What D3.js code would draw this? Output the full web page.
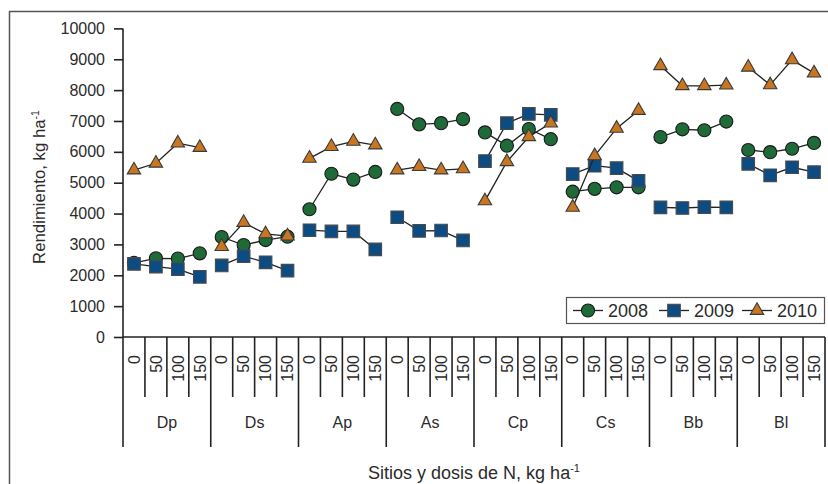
<!DOCTYPE html>
<html><head><meta charset="utf-8">
<script src="https://cdn.jsdelivr.net/npm/d3@7"></script>
<style>
html,body{margin:0;padding:0;background:#fff;}
svg{display:block;font-family:"Liberation Sans",Arial,sans-serif;}
</style></head>
<body>
<svg id="chart" width="828" height="484"></svg>
<script>
const sites = ["Dp","Ds","Ap","As","Cp","Cs","Bb","Bl"];
const doses = ["0","50","100","150"];
const yTicks = [0,1000,2000,3000,4000,5000,6000,7000,8000,9000,10000];
const seriesNames = ["2008","2009","2010"];
const y2008 = [2400,2550,2540,2710, 3240,2980,3140,3250, 4140,5290,5100,5350, 7390,6890,6930,7060, 6630,6200,6740,6410, 4710,4800,4850,4850, 6480,6730,6700,6980, 6060,5990,6100,6290];
const y2009 = [2370,2280,2200,1950, 2320,2620,2420,2150, 3460,3420,3420,2840, 3880,3440,3450,3130, 5700,6930,7230,7200, 5280,5550,5470,5060, 4200,4180,4210,4200, 5610,5240,5500,5340];
const y2010 = [5410,5630,6280,6140, 2930,3710,3340,3270, 5790,6170,6340,6220, 5410,5520,5410,5450, 4410,5680,6490,6930, 4200,5870,6760,7340, 8790,8140,8140,8160, 8740,8170,8980,8550];

const colors = ["#1e6b39","#0d4b83","#c8761f"];
const strokes = ["#1a1a1a","#4a4a4a","#3a3a3a"];
const symbols = [d3.symbolCircle, d3.symbolSquare, d3.symbolTriangle];
const sizes = [135, 158, 78];
const txt = "#2b2b2b";

const svg = d3.select("#chart");
const L = 123, R = 825, T = 28.4, B = 337;

// outer frame
svg.append("rect").attr("x",9.5).attr("y",11.5).attr("width",840).attr("height",520)
  .attr("fill","none").attr("stroke","#555").attr("stroke-width",1.5);

const keys = [];
sites.forEach(s => doses.forEach(d => keys.push(s + "|" + d)));
const x = d3.scaleBand().domain(keys).range([L, R]).padding(0);
const y = d3.scaleLinear().domain([0, 10000]).range([B, T]);

// y axis
const ya = svg.append("g").attr("transform", `translate(${L},0)`)
  .call(d3.axisLeft(y).tickValues(yTicks).tickSize(9).tickPadding(9).tickFormat(d3.format("d")));
ya.select(".domain").attr("stroke","#222").attr("stroke-width",1.6).attr("d", `M0,${T}V${B}`);
ya.selectAll(".tick line").attr("stroke","#222").attr("stroke-width",1.6);
ya.selectAll(".tick text").attr("fill",txt).attr("font-size",16).attr("font-family","Liberation Sans, Arial, sans-serif");

// x axis line
svg.append("line").attr("x1",L).attr("x2",R).attr("y1",B).attr("y2",B)
  .attr("stroke","#222").attr("stroke-width",1.6);

// boundary ticks
const bounds = keys.map(k => x(k)).concat([R]);
svg.append("g").selectAll("line").data(bounds).join("line")
  .attr("x1", d => d).attr("x2", d => d)
  .attr("y1", B).attr("y2", (d,i) => i % 4 === 0 ? 447 : 397)
  .attr("stroke","#222").attr("stroke-width",1.6);

// dose labels
svg.append("g").selectAll("text").data(keys).join("text")
  .attr("transform", k => `translate(${x(k) + x.bandwidth()/2},355) rotate(-90)`)
  .attr("text-anchor","end").attr("dy","0.36em")
  .attr("font-size",16).attr("fill",txt)
  .text(k => k.split("|")[1]);

// site labels
svg.append("g").selectAll("text").data(sites).join("text")
  .attr("x", s => (x(s + "|0") + x(s + "|150") + x.bandwidth())/2)
  .attr("y", 427.5).attr("text-anchor","middle")
  .attr("font-size",16).attr("fill",txt).text(s => s);

// axis titles
const xt = svg.append("text").attr("x",(L+R)/2).attr("y",478.5).attr("text-anchor","middle")
  .attr("font-size",18).attr("fill",txt);
xt.append("tspan").text("Sitios y dosis de N, kg ha");
xt.append("tspan").attr("dy",-7).attr("font-size",11).text("-1");

const yt = svg.append("text").attr("transform",`translate(45,187) rotate(-90)`)
  .attr("text-anchor","middle").attr("font-size",16.8).attr("fill",txt);
yt.append("tspan").text("Rendimiento, kg ha");
yt.append("tspan").attr("dy",-6.5).attr("font-size",10.5).text("-1");

// series
const allSeries = [y2008, y2009, y2010];
const line = d3.line().x(d => x(d.k) + x.bandwidth()/2).y(d => y(d.v));
allSeries.forEach((vals, si) => {
  const g = svg.append("g");
  const pts = keys.map((k,i) => ({k, v: vals[i], site: k.split("|")[0]}));
  sites.forEach(s => {
    g.append("path").datum(pts.filter(p => p.site === s))
      .attr("d", line).attr("fill","none").attr("stroke","#222").attr("stroke-width",1.3);
  });
  g.selectAll("path.m").data(pts).join("path").attr("class","m")
    .attr("transform", d => `translate(${x(d.k) + x.bandwidth()/2},${y(d.v)})`)
    .attr("d", d3.symbol().type(symbols[si]).size(sizes[si]))
    .attr("fill", colors[si]).attr("stroke", strokes[si]).attr("stroke-width",1.1);
});

// legend
const lg = svg.append("g");
lg.append("rect").attr("x",566.5).attr("y",297.5).attr("width",258).attr("height",26)
  .attr("fill","#fff").attr("stroke","#555").attr("stroke-width",1.2);
const lx = [588, 674, 757];
seriesNames.forEach((n, i) => {
  lg.append("line").attr("x1",lx[i]-15).attr("x2",lx[i]+15).attr("y1",310.5).attr("y2",310.5)
    .attr("stroke","#222").attr("stroke-width",1.3);
  lg.append("path").attr("transform",`translate(${lx[i]},310.5)`)
    .attr("d", d3.symbol().type(symbols[i]).size(sizes[i]))
    .attr("fill", colors[i]).attr("stroke", strokes[i]).attr("stroke-width",1.1);
  lg.append("text").attr("x", lx[i]+20).attr("y",310.5).attr("dy","0.36em")
    .attr("font-size",18).attr("fill",txt).text(n);
});
</script>
</body></html>
